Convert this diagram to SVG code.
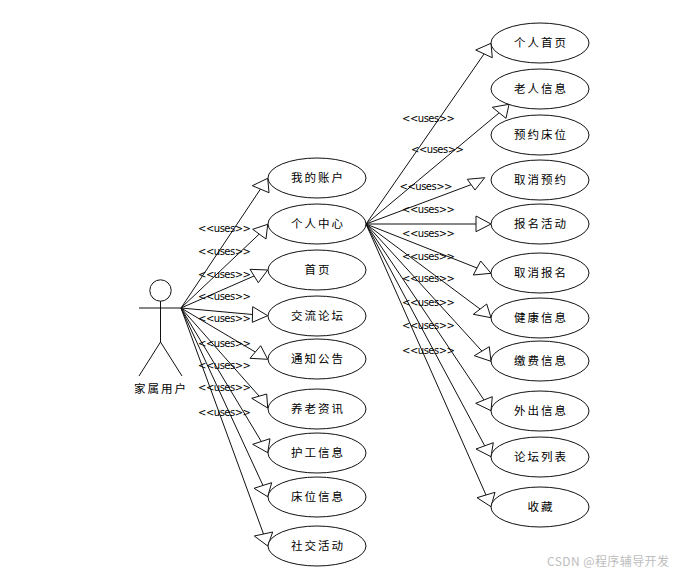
<svg xmlns="http://www.w3.org/2000/svg" width="677" height="576" viewBox="0 0 677 576">
<style>
.n ellipse{fill:#fff;stroke:#111;stroke-width:1}
.a line,.a circle{fill:#fff;stroke:#111;stroke-width:1}
.c line{stroke:#111;stroke-width:1}
.c polygon{fill:#fff;stroke:#111;stroke-width:1}
text{fill:#000;font-family:"Noto Sans CJK SC","DejaVu Sans",sans-serif}
.t{font-size:11.5px;letter-spacing:2px;text-anchor:middle}
.u{font-family:"DejaVu Sans",sans-serif;font-size:10px}
.w{fill:#bdbdbd;font-size:12px}
</style>
<rect width="677" height="576" fill="#fff"/>
<g id="connectors" class="c">
<line x1="181" y1="308" x2="260.5" y2="189"/><polygon points="252.3,185.7 267.7,178.3 269,192.7"/>
<line x1="181" y1="308" x2="259.3" y2="234"/><polygon points="267.7,224.3 252.7,229.3 266,239"/>
<line x1="181" y1="308" x2="254" y2="276"/><polygon points="267.7,270 250,269.3 258.3,282.7"/>
<line x1="181" y1="308" x2="252.5" y2="314.5"/><polygon points="267.7,315.7 252.7,306.7 252.3,322.3"/>
<line x1="181" y1="308" x2="255.3" y2="352"/><polygon points="267.7,359.3 260.7,345.7 250,358.3"/>
<line x1="181" y1="308" x2="259" y2="396"/><polygon points="267.7,408 266.7,394 251.7,398.3"/>
<line x1="181" y1="308" x2="261.3" y2="441.5"/><polygon points="267.7,452.7 270,438.7 252.7,444.3"/>
<line x1="181" y1="308" x2="263" y2="485.5"/><polygon points="267.7,496.7 271.7,482.7 254,488.3"/>
<line x1="181" y1="308" x2="263.5" y2="534"/><polygon points="267.7,546 272.7,532 254.3,536"/>
<line x1="366" y1="224" x2="484" y2="54"/><polygon points="475.7,50 491,43.3 492.3,57.7"/>
<line x1="366" y1="224" x2="499.3" y2="112.7"/><polygon points="492.3,107.3 509,104.3 506,118.3"/>
<line x1="366" y1="224" x2="471" y2="184.7"/><polygon points="467.3,179.3 484.7,177.7 475,190"/>
<line x1="366" y1="224" x2="476" y2="224"/><polygon points="491,224 476,216 476,231.7"/>
<line x1="366" y1="224" x2="477" y2="268"/><polygon points="491,273.3 480.7,261 473.3,275"/>
<line x1="366" y1="224" x2="480" y2="309"/><polygon points="491,317.7 486.7,304 473.3,314.3"/>
<line x1="366" y1="224" x2="481.8" y2="351"/><polygon points="491,361.3 489.3,346.7 474.3,355.7"/>
<line x1="366" y1="224" x2="484" y2="400"/><polygon points="491,410.7 492.3,396.7 475.7,403.3"/>
<line x1="366" y1="224" x2="484.7" y2="445.8"/><polygon points="491,456.7 493.3,442.7 476,449"/>
<line x1="366" y1="224" x2="486" y2="495"/><polygon points="491,506.7 495,492.3 477,497.7"/>
<g class="u">
<text x="198" y="232" class="u" textLength="53">&lt;&lt;uses&gt;&gt;</text>
<text x="198" y="255" class="u" textLength="53">&lt;&lt;uses&gt;&gt;</text>
<text x="198" y="278" class="u" textLength="53">&lt;&lt;uses&gt;&gt;</text>
<text x="198" y="300" class="u" textLength="53">&lt;&lt;uses&gt;&gt;</text>
<text x="198" y="322" class="u" textLength="53">&lt;&lt;uses&gt;&gt;</text>
<text x="198" y="347" class="u" textLength="53">&lt;&lt;uses&gt;&gt;</text>
<text x="198" y="369" class="u" textLength="53">&lt;&lt;uses&gt;&gt;</text>
<text x="198" y="391" class="u" textLength="53">&lt;&lt;uses&gt;&gt;</text>
<text x="198" y="416" class="u" textLength="53">&lt;&lt;uses&gt;&gt;</text>
<text x="402" y="122" class="u" textLength="53">&lt;&lt;uses&gt;&gt;</text>
<text x="411" y="153" class="u" textLength="53">&lt;&lt;uses&gt;&gt;</text>
<text x="399.5" y="190" class="u" textLength="53">&lt;&lt;uses&gt;&gt;</text>
<text x="402" y="213" class="u" textLength="53">&lt;&lt;uses&gt;&gt;</text>
<text x="402" y="237" class="u" textLength="53">&lt;&lt;uses&gt;&gt;</text>
<text x="402" y="260" class="u" textLength="53">&lt;&lt;uses&gt;&gt;</text>
<text x="402" y="282" class="u" textLength="53">&lt;&lt;uses&gt;&gt;</text>
<text x="402" y="306" class="u" textLength="53">&lt;&lt;uses&gt;&gt;</text>
<text x="402" y="329" class="u" textLength="53">&lt;&lt;uses&gt;&gt;</text>
<text x="402" y="354" class="u" textLength="53">&lt;&lt;uses&gt;&gt;</text>
</g>
</g>
<g id="actor" class="a">
<circle cx="160.5" cy="290.5" r="10.7"/>
<line x1="160.5" y1="301" x2="160.5" y2="342"/>
<line x1="139" y1="308" x2="182" y2="308"/>
<line x1="160.5" y1="342" x2="139" y2="376"/>
<line x1="160.5" y1="342" x2="182" y2="376"/>
<text class="t" x="161" y="393">家属用户</text>
</g>
<g id="u1" class="n"><ellipse cx="317" cy="178" rx="49" ry="20"/><text class="t" x="318" y="182">我的账户</text></g>
<g id="u2" class="n"><ellipse cx="317" cy="224" rx="49" ry="20"/><text class="t" x="318" y="228">个人中心</text></g>
<g id="u3" class="n"><ellipse cx="317" cy="270" rx="49" ry="20"/><text class="t" x="318" y="274">首页</text></g>
<g id="u4" class="n"><ellipse cx="317" cy="316" rx="49" ry="20"/><text class="t" x="318" y="320">交流论坛</text></g>
<g id="u5" class="n"><ellipse cx="317" cy="359" rx="49" ry="20"/><text class="t" x="318" y="363">通知公告</text></g>
<g id="u6" class="n"><ellipse cx="317" cy="409" rx="49" ry="20"/><text class="t" x="318" y="413">养老资讯</text></g>
<g id="u7" class="n"><ellipse cx="317" cy="453" rx="49" ry="20"/><text class="t" x="318" y="457">护工信息</text></g>
<g id="u8" class="n"><ellipse cx="317" cy="497" rx="49" ry="20"/><text class="t" x="318" y="501">床位信息</text></g>
<g id="u9" class="n"><ellipse cx="317" cy="546" rx="49" ry="20"/><text class="t" x="318" y="550">社交活动</text></g>
<g id="r1" class="n"><ellipse cx="540" cy="43" rx="49" ry="20"/><text class="t" x="541" y="47">个人首页</text></g>
<g id="r2" class="n"><ellipse cx="540" cy="89" rx="49" ry="20"/><text class="t" x="541" y="93">老人信息</text></g>
<g id="r3" class="n"><ellipse cx="540" cy="135" rx="49" ry="20"/><text class="t" x="541" y="139">预约床位</text></g>
<g id="r4" class="n"><ellipse cx="540" cy="180" rx="49" ry="20"/><text class="t" x="541" y="184">取消预约</text></g>
<g id="r5" class="n"><ellipse cx="540" cy="224" rx="49" ry="20"/><text class="t" x="541" y="228">报名活动</text></g>
<g id="r6" class="n"><ellipse cx="540" cy="273" rx="49" ry="20"/><text class="t" x="541" y="277">取消报名</text></g>
<g id="r7" class="n"><ellipse cx="540" cy="318" rx="49" ry="20"/><text class="t" x="541" y="322">健康信息</text></g>
<g id="r8" class="n"><ellipse cx="540" cy="361" rx="49" ry="20"/><text class="t" x="541" y="365">缴费信息</text></g>
<g id="r9" class="n"><ellipse cx="540" cy="411" rx="49" ry="20"/><text class="t" x="541" y="415">外出信息</text></g>
<g id="r10" class="n"><ellipse cx="540" cy="457" rx="49" ry="20"/><text class="t" x="541" y="461">论坛列表</text></g>
<g id="r11" class="n"><ellipse cx="540" cy="507" rx="49" ry="20"/><text class="t" x="541" y="511">收藏</text></g>
<text class="w" x="547" y="566" textLength="122">CSDN @程序辅导开发</text>
</svg>
